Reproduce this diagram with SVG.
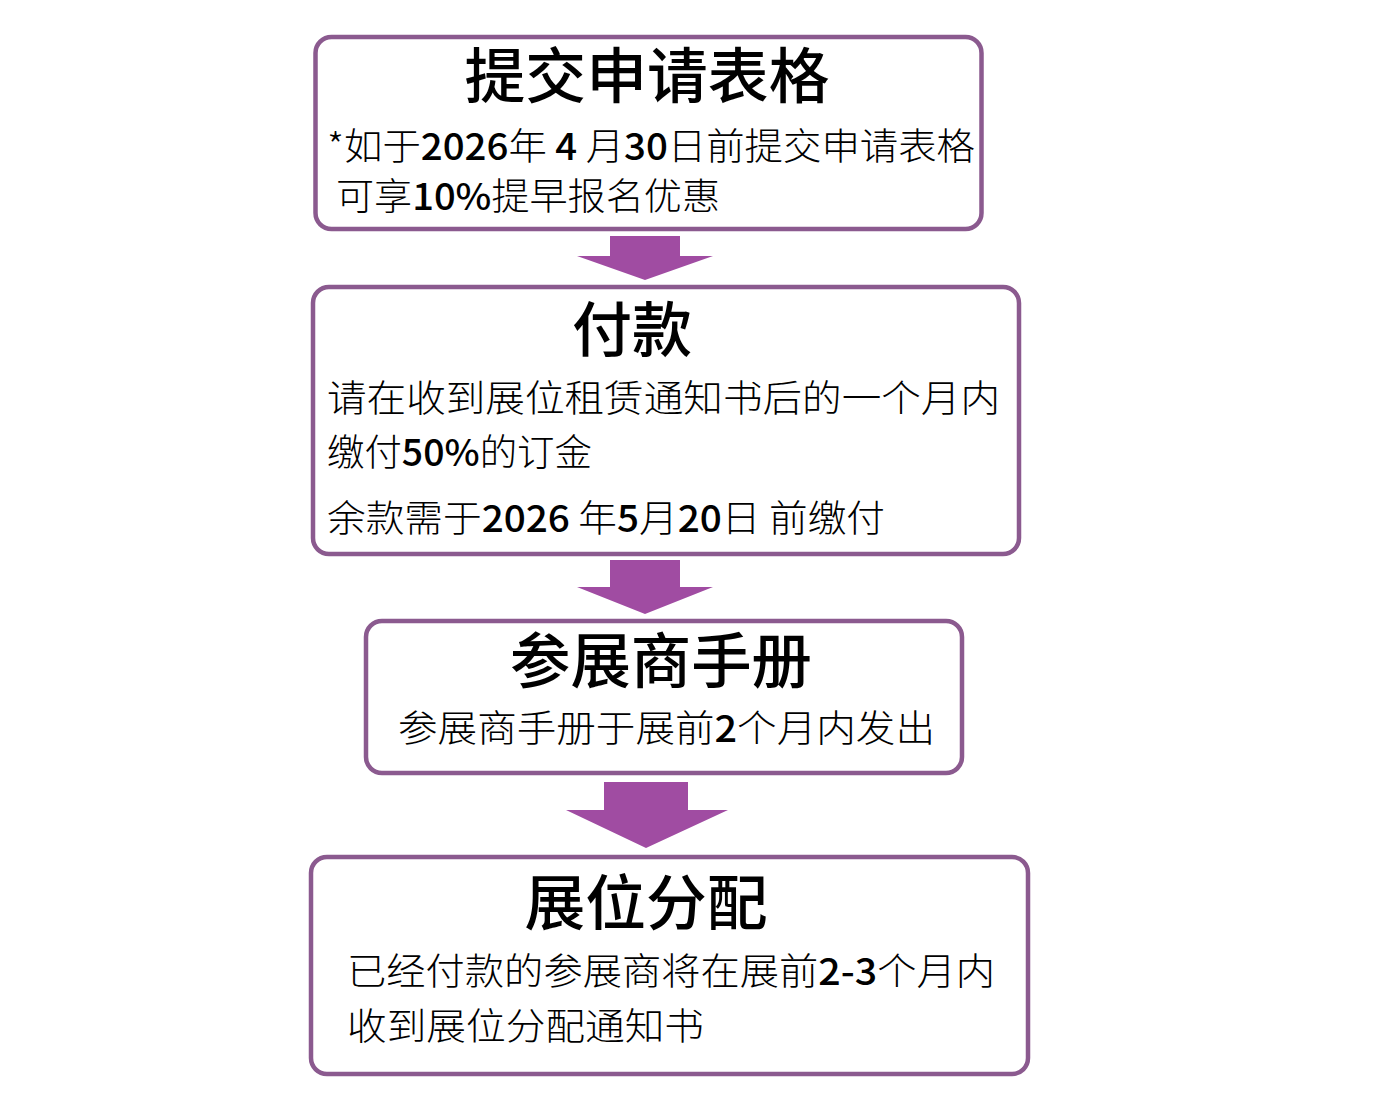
<svg xmlns="http://www.w3.org/2000/svg" width="1396" height="1112" viewBox="0 0 1396 1112">
<style>
.box{fill:#fff;stroke:#8b5a8f;stroke-width:4.5}
.arr{fill:#a04ca2}
.title{font-family:"Liberation Serif","Noto Sans CJK SC",serif;font-size:60px;font-weight:500;fill:#000;text-anchor:middle}
.body{font-family:"Noto Sans CJK SC",sans-serif;font-size:37px;font-weight:300;fill:#000}
.num{font-weight:500}
</style>
<rect width="1396" height="1112" fill="#fff"/>
<g id="connectors">
<path class="arr" d="M610 236 H680 V256 H713 L645 280 L577 256 H610 Z"/>
<path class="arr" d="M610 560 H680 V587 H713 L645 614 L577 587 H610 Z"/>
<path class="arr" d="M604 782 H688 V810 H728 L646 848 L566 810 H604 Z"/>
</g>
<g id="node1">
<rect class="box" x="315.5" y="37" width="666" height="192" rx="16"/>
<text class="title" x="647" y="98" textLength="365" lengthAdjust="spacingAndGlyphs">提交申请表格</text>
<text class="body" x="327" y="160" textLength="648" lengthAdjust="spacingAndGlyphs">*如于<tspan class="num">2026</tspan>年 <tspan class="num">4</tspan> 月<tspan class="num">30</tspan>日前提交申请表格</text>
<text class="body" x="336" y="210" textLength="384" lengthAdjust="spacingAndGlyphs">可享<tspan class="num">10%</tspan>提早报名优惠</text>
</g>
<g id="node2">
<rect class="box" x="313" y="287" width="706" height="267" rx="16"/>
<text class="title" x="632" y="352" textLength="120" lengthAdjust="spacingAndGlyphs">付款</text>
<text class="body" x="327" y="412" textLength="673" lengthAdjust="spacingAndGlyphs">请在收到展位租赁通知书后的一个月内</text>
<text class="body" x="327" y="466" textLength="265" lengthAdjust="spacingAndGlyphs">缴付<tspan class="num">50%</tspan>的订金</text>
<text class="body" x="327" y="532" textLength="558" lengthAdjust="spacingAndGlyphs">余款需于<tspan class="num">2026</tspan> 年<tspan class="num">5</tspan>月<tspan class="num">20</tspan>日 前缴付</text>
</g>
<g id="node3">
<rect class="box" x="366" y="621" width="596" height="152" rx="16"/>
<text class="title" x="661" y="683" textLength="302" lengthAdjust="spacingAndGlyphs">参展商手册</text>
<text class="body" x="398" y="742" textLength="537" lengthAdjust="spacingAndGlyphs">参展商手册于展前<tspan class="num">2</tspan>个月内发出</text>
</g>
<g id="node4">
<rect class="box" x="311" y="857" width="717" height="217" rx="16"/>
<text class="title" x="646" y="925" textLength="243" lengthAdjust="spacingAndGlyphs">展位分配</text>
<text class="body" x="347" y="985" textLength="648" lengthAdjust="spacingAndGlyphs">已经付款的参展商将在展前<tspan class="num">2-3</tspan>个月内</text>
<text class="body" x="347" y="1040" textLength="357" lengthAdjust="spacingAndGlyphs">收到展位分配通知书</text>
</g>
</svg>
